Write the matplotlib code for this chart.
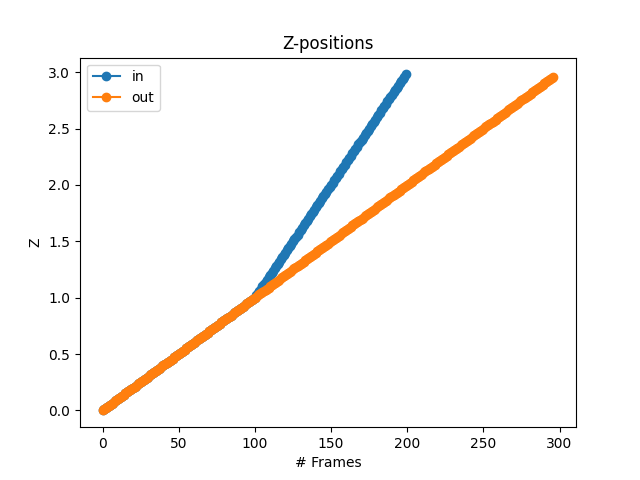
import matplotlib
matplotlib.use("Agg")
import matplotlib.pyplot as plt

# z values, one point per frame
in_z = [
    0.00, 0.01, 0.02, 0.03, 0.04, 0.05, 0.06, 0.07, 0.08, 0.09,
    0.10, 0.11, 0.12, 0.13, 0.14, 0.15, 0.16, 0.17, 0.18, 0.19,
    0.20, 0.21, 0.22, 0.23, 0.24, 0.25, 0.26, 0.27, 0.28, 0.29,
    0.30, 0.31, 0.32, 0.33, 0.34, 0.35, 0.36, 0.37, 0.38, 0.39,
    0.40, 0.41, 0.42, 0.43, 0.44, 0.45, 0.46, 0.47, 0.48, 0.49,
    0.50, 0.51, 0.52, 0.53, 0.54, 0.55, 0.56, 0.57, 0.58, 0.59,
    0.60, 0.61, 0.62, 0.63, 0.64, 0.65, 0.66, 0.67, 0.68, 0.69,
    0.70, 0.71, 0.72, 0.73, 0.74, 0.75, 0.76, 0.77, 0.78, 0.79,
    0.80, 0.81, 0.82, 0.83, 0.84, 0.85, 0.86, 0.87, 0.88, 0.89,
    0.90, 0.91, 0.92, 0.93, 0.94, 0.95, 0.96, 0.97, 0.98, 0.99,
    1.00, 1.02, 1.04, 1.06, 1.08, 1.10, 1.12, 1.14, 1.16, 1.18,
    1.20, 1.22, 1.24, 1.26, 1.28, 1.30, 1.32, 1.34, 1.36, 1.38,
    1.40, 1.42, 1.44, 1.46, 1.48, 1.50, 1.52, 1.54, 1.56, 1.58,
    1.60, 1.62, 1.64, 1.66, 1.68, 1.70, 1.72, 1.74, 1.76, 1.78,
    1.80, 1.82, 1.84, 1.86, 1.88, 1.90, 1.92, 1.94, 1.96, 1.98,
    2.00, 2.02, 2.04, 2.06, 2.08, 2.10, 2.12, 2.14, 2.16, 2.18,
    2.20, 2.22, 2.24, 2.26, 2.28, 2.30, 2.32, 2.34, 2.36, 2.38,
    2.40, 2.42, 2.44, 2.46, 2.48, 2.50, 2.52, 2.54, 2.56, 2.58,
    2.60, 2.62, 2.64, 2.66, 2.68, 2.70, 2.72, 2.74, 2.76, 2.78,
    2.80, 2.82, 2.84, 2.86, 2.88, 2.90, 2.92, 2.94, 2.96, 2.98,
]

out_z = [
    0.00, 0.01, 0.02, 0.03, 0.04, 0.05, 0.06, 0.07, 0.08, 0.09,
    0.10, 0.11, 0.12, 0.13, 0.14, 0.15, 0.16, 0.17, 0.18, 0.19,
    0.20, 0.21, 0.22, 0.23, 0.24, 0.25, 0.26, 0.27, 0.28, 0.29,
    0.30, 0.31, 0.32, 0.33, 0.34, 0.35, 0.36, 0.37, 0.38, 0.39,
    0.40, 0.41, 0.42, 0.43, 0.44, 0.45, 0.46, 0.47, 0.48, 0.49,
    0.50, 0.51, 0.52, 0.53, 0.54, 0.55, 0.56, 0.57, 0.58, 0.59,
    0.60, 0.61, 0.62, 0.63, 0.64, 0.65, 0.66, 0.67, 0.68, 0.69,
    0.70, 0.71, 0.72, 0.73, 0.74, 0.75, 0.76, 0.77, 0.78, 0.79,
    0.80, 0.81, 0.82, 0.83, 0.84, 0.85, 0.86, 0.87, 0.88, 0.89,
    0.90, 0.91, 0.92, 0.93, 0.94, 0.95, 0.96, 0.97, 0.98, 0.99,
    1.00, 1.01, 1.02, 1.03, 1.04, 1.05, 1.06, 1.07, 1.08, 1.09,
    1.10, 1.11, 1.12, 1.13, 1.14, 1.15, 1.16, 1.17, 1.18, 1.19,
    1.20, 1.21, 1.22, 1.23, 1.24, 1.25, 1.26, 1.27, 1.28, 1.29,
    1.30, 1.31, 1.32, 1.33, 1.34, 1.35, 1.36, 1.37, 1.38, 1.39,
    1.40, 1.41, 1.42, 1.43, 1.44, 1.45, 1.46, 1.47, 1.48, 1.49,
    1.50, 1.51, 1.52, 1.53, 1.54, 1.55, 1.56, 1.57, 1.58, 1.59,
    1.60, 1.61, 1.62, 1.63, 1.64, 1.65, 1.66, 1.67, 1.68, 1.69,
    1.70, 1.71, 1.72, 1.73, 1.74, 1.75, 1.76, 1.77, 1.78, 1.79,
    1.80, 1.81, 1.82, 1.83, 1.84, 1.85, 1.86, 1.87, 1.88, 1.89,
    1.90, 1.91, 1.92, 1.93, 1.94, 1.95, 1.96, 1.97, 1.98, 1.99,
    2.00, 2.01, 2.02, 2.03, 2.04, 2.05, 2.06, 2.07, 2.08, 2.09,
    2.10, 2.11, 2.12, 2.13, 2.14, 2.15, 2.16, 2.17, 2.18, 2.19,
    2.20, 2.21, 2.22, 2.23, 2.24, 2.25, 2.26, 2.27, 2.28, 2.29,
    2.30, 2.31, 2.32, 2.33, 2.34, 2.35, 2.36, 2.37, 2.38, 2.39,
    2.40, 2.41, 2.42, 2.43, 2.44, 2.45, 2.46, 2.47, 2.48, 2.49,
    2.50, 2.51, 2.52, 2.53, 2.54, 2.55, 2.56, 2.57, 2.58, 2.59,
    2.60, 2.61, 2.62, 2.63, 2.64, 2.65, 2.66, 2.67, 2.68, 2.69,
    2.70, 2.71, 2.72, 2.73, 2.74, 2.75, 2.76, 2.77, 2.78, 2.79,
    2.80, 2.81, 2.82, 2.83, 2.84, 2.85, 2.86, 2.87, 2.88, 2.89,
    2.90, 2.91, 2.92, 2.93, 2.94, 2.95, 2.96,
]

fig, ax = plt.subplots(figsize=(6.4, 4.8), dpi=100)

# frame index is just the position in each list
ax.plot(range(len(in_z)), in_z, marker="o", label="in")
ax.plot(range(len(out_z)), out_z, marker="o", label="out")

ax.set_title("Z-positions")
ax.set_xlabel("# Frames")
ax.set_ylabel("Z")
ax.legend(loc="upper left")

fig.savefig("out.png")
